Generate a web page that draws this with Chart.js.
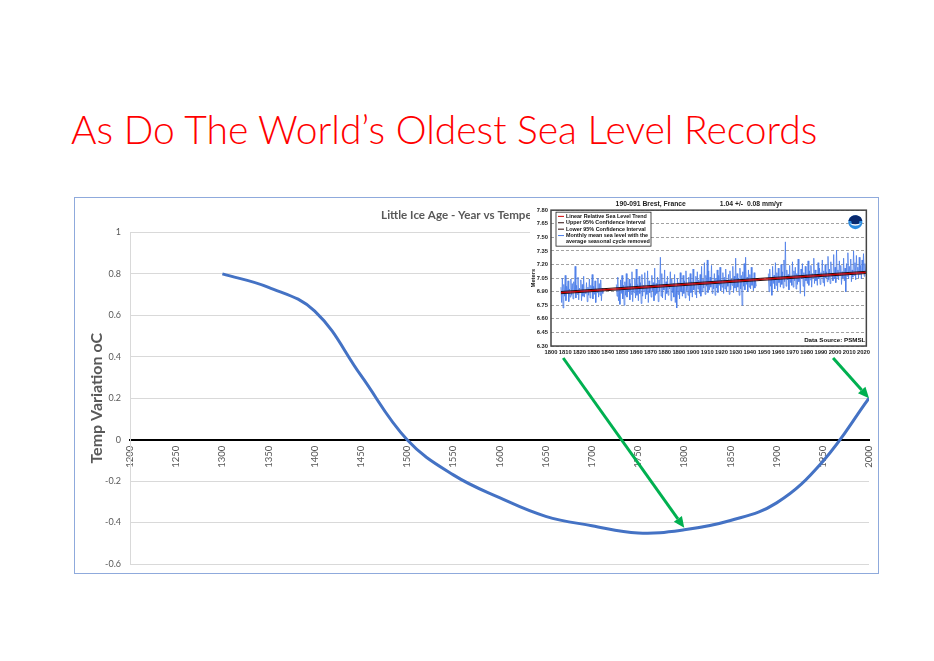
<!DOCTYPE html>
<html>
<head>
<meta charset="utf-8">
<script src="https://cdn.jsdelivr.net/npm/chart.js@4.4.1/dist/chart.umd.min.js"></script>
<style>
  html, body { margin: 0; padding: 0; background: #fff; }
  #slide { position: relative; width: 934px; height: 661px; overflow: hidden; }
  #heading { position: absolute; left: 71px; top: 106px; font-family: Lato, "Open Sans", sans-serif; font-weight: 300; font-size: 39px; line-height: 1.2; color: #ff0000; white-space: nowrap; }
  #mainBox { position: absolute; left: 74px; top: 197px; width: 805px; height: 377px; box-sizing: border-box; border: 1px solid #8faadc; }
  #insetBox { position: absolute; left: 530px; top: 199px; width: 343px; height: 160px; background: #fff; }
  canvas { display: block; }
  #arrows { position: absolute; left: 0; top: 0; pointer-events: none; }
</style>
</head>
<body>
<div id="slide">
  <div id="heading">As Do The World’s Oldest Sea Level Records</div>
  <div id="mainBox"><canvas id="mainChart" width="803" height="375"></canvas></div>
  <div id="insetBox"><canvas id="insetChart" width="343" height="160"></canvas></div>
  <canvas id="arrows" width="934" height="661"></canvas>
</div>
<script>
// main chart: Little Ice Age temperature variation
var years = [1300, 1350, 1400, 1450, 1500, 1550, 1600, 1650, 1700, 1750, 1800, 1850, 1900, 1950, 2000];
var tempVariation = [0.80, 0.735, 0.62, 0.31, 0.0, -0.17, -0.28, -0.37, -0.415, -0.45, -0.435, -0.39, -0.305, -0.105, 0.20];

// inset: Brest monthly mean sea level (metres), half-year steps, three runs with gaps
var seaStart = [1807, 1846, 1953];
var seaLevel1 = [6.95, 6.78, 7.05, 6.72, 6.98, 6.85, 7.08, 6.80, 6.96, 6.88, 7.02, 6.79, 6.93, 6.84, 7.04, 6.86, 6.99, 6.82, 7.01, 6.90,
  7.18, 6.83, 6.97, 6.87, 7.06, 6.81, 6.94, 6.89, 7.03, 6.80, 6.98, 6.85, 7.07, 6.84, 6.92, 6.88, 7.00, 6.79, 6.95, 6.86,
  7.04, 6.83, 6.97, 6.90, 7.09, 6.82, 6.96, 6.87, 7.02, 6.78, 6.93, 6.89, 7.05, 6.84, 6.99, 6.86, 7.03, 6.80, 6.94, 6.88];
var seaLevel2 = [6.98, 6.85, 7.06, 6.80, 6.95, 6.76, 7.03, 6.88, 7.08, 6.82, 6.97, 6.75, 7.01, 6.86, 7.10, 6.84, 6.96, 6.90, 7.04, 6.81,
  6.99, 6.87, 7.12, 6.79, 6.94, 6.89, 7.05, 6.83, 7.15, 6.86, 6.98, 6.80, 7.07, 6.88, 7.00, 6.77, 7.09, 6.85, 6.97, 6.90,
  7.11, 6.82, 6.95, 6.87, 7.13, 6.78, 7.02, 6.89, 6.96, 6.84, 7.08, 6.91, 7.00, 6.80, 7.16, 6.86, 6.99, 6.88, 7.06, 6.79,
  7.03, 6.90, 7.28, 6.85, 7.10, 6.83, 6.98, 6.92, 7.14, 6.81, 7.01, 6.88, 7.07, 6.86, 6.97, 6.93, 7.12, 6.80, 7.04, 6.89,
  6.99, 6.84, 7.09, 6.78, 6.96, 6.72, 7.05, 6.87, 7.00, 6.82, 7.11, 6.90, 6.97, 6.85, 7.08, 6.88, 7.02, 6.83, 7.13, 6.91,
  6.99, 6.86, 7.06, 6.80, 7.10, 6.89, 7.01, 6.84, 7.15, 6.92, 6.98, 6.87, 7.07, 6.83, 7.12, 6.93, 7.03, 6.88, 7.09, 6.85,
  7.18, 6.90, 7.04, 6.94, 7.22, 6.87, 7.08, 6.96, 7.25, 6.89, 7.13, 6.92, 7.06, 6.95, 7.19, 6.88, 7.02, 6.93, 7.10, 6.86,
  7.05, 6.94, 7.14, 6.89, 7.08, 6.97, 7.17, 6.91, 7.03, 6.95, 7.11, 6.88, 7.06, 6.93, 7.15, 6.90, 7.01, 6.96, 7.09, 6.87,
  7.13, 6.92, 7.04, 6.97, 7.18, 6.89, 7.07, 6.94, 7.27, 6.91, 7.10, 6.95, 7.05, 6.86, 7.16, 6.93, 7.08, 6.75, 7.12, 6.96,
  7.21, 6.92, 7.28, 6.98, 7.06, 6.90, 7.14, 6.95, 7.09, 6.93, 7.17, 6.97, 7.04, 6.91, 7.11, 6.94, 7.02, 6.96];
var seaLevel3 = [7.10, 6.90, 7.15, 6.96, 7.05, 6.86, 7.18, 6.99, 7.08, 6.93, 7.22, 6.97, 7.11, 6.91, 7.16, 7.00, 7.06, 6.95, 7.20, 6.98,
  7.12, 6.94, 7.25, 7.01, 7.45, 6.96, 7.14, 7.03, 7.09, 6.92, 7.19, 7.00, 7.07, 6.97, 7.23, 6.95, 7.13, 7.02, 7.17, 6.93,
  7.10, 6.98, 7.26, 7.01, 7.08, 6.88, 7.15, 7.04, 7.21, 6.96, 7.11, 6.85, 7.18, 7.02, 7.09, 6.99, 7.24, 6.97, 7.13, 7.03,
  7.19, 6.95, 7.10, 7.05, 7.27, 6.99, 7.14, 7.02, 7.08, 6.97, 7.22, 7.04, 7.16, 6.98, 7.11, 7.06, 7.25, 7.00, 7.13, 6.96,
  7.20, 7.05, 7.12, 7.01, 7.29, 7.03, 7.15, 6.99, 7.23, 7.07, 7.10, 7.02, 7.31, 7.04, 7.17, 7.00, 7.36, 7.06, 7.14, 7.03,
  7.24, 7.08, 7.19, 6.98, 7.12, 7.05, 7.27, 7.02, 7.16, 6.90, 7.21, 7.07, 7.33, 7.04, 7.18, 7.09, 7.26, 7.01, 7.14, 7.06,
  7.35, 7.08, 7.22, 7.03, 7.30, 7.10, 7.17, 7.05, 7.28, 7.09, 7.19, 7.04, 7.25, 7.11, 7.32, 7.07, 7.21, 7.12, 7.15, 7.08];
var trendYears = [1807, 2022];
var trendLevel = [6.89, 7.113];
var trendUpper = [6.902, 7.125];
var trendLower = [6.878, 7.101];

// arrows: from inset year -> to main chart year
var arrowFrom = [1810, 2000];
var arrowTo = [1800, 2000];

var FONT = 'Lato, "Open Sans", sans-serif';
var SMALL = '"Liberation Sans", Arial, sans-serif';

function toPoints(xs, ys) {
  var out = [];
  for (var i = 0; i < xs.length; i++) out.push({ x: xs[i], y: ys[i] });
  return out;
}

var monthly = [];
[seaLevel1, seaLevel2, seaLevel3].forEach(function(run, r) {
  for (var i = 0; i < run.length; i++) monthly.push({ x: seaStart[r] + i * 0.5, y: run[i] });
  monthly.push({ x: seaStart[r] + run.length * 0.5, y: null });
});

var insetDecor = {
  id: 'insetDecor',
  afterDraw: function(chart) {
    var ctx = chart.ctx, a = chart.chartArea;
    ctx.save();
    ctx.strokeStyle = '#444';
    ctx.lineWidth = 1.5;
    ctx.strokeRect(a.left, a.top, a.right - a.left, a.bottom - a.top);

    // legend box
    var lx = a.left + 5, ly = a.top + 2, rows = 0;
    chart.data.datasets.forEach(function(ds) { rows += ds.label.split('\n').length; });
    var rh = 6.4;
    ctx.fillStyle = '#fff';
    ctx.fillRect(lx, ly, 95, rows * rh + 2);
    ctx.lineWidth = 0.8;
    ctx.strokeStyle = '#222';
    ctx.strokeRect(lx, ly, 95, rows * rh + 2);
    ctx.font = 'bold 5.4px ' + SMALL;
    ctx.textBaseline = 'middle';
    var row = 0;
    chart.data.datasets.forEach(function(ds) {
      var lines = ds.label.split('\n');
      var y0 = ly + 1 + rh * (row + 0.5);
      ctx.strokeStyle = ds.borderColor;
      ctx.lineWidth = 1;
      ctx.beginPath(); ctx.moveTo(lx + 2, y0); ctx.lineTo(lx + 8, y0); ctx.stroke();
      ctx.fillStyle = '#111';
      lines.forEach(function(t) {
        ctx.fillText(t, lx + 10, ly + 1 + rh * (row + 0.5));
        row++;
      });
    });

    // NOAA logo
    var cx = a.right - 11, cy = a.top + 12;
    ctx.beginPath(); ctx.arc(cx, cy, 7, 0, Math.PI * 2); ctx.fillStyle = '#2a8be0'; ctx.fill();
    ctx.beginPath(); ctx.arc(cx, cy, 7, Math.PI * 1.05, Math.PI * 1.95); ctx.fillStyle = '#0a2a6e'; ctx.fill();
    ctx.beginPath(); ctx.arc(cx, cy - 1, 4, 0, Math.PI * 2); ctx.fillStyle = '#0a2a6e'; ctx.fill();
    ctx.beginPath(); ctx.moveTo(cx - 6, cy + 1); ctx.quadraticCurveTo(cx, cy + 6, cx + 6, cy + 1);
    ctx.quadraticCurveTo(cx, cy + 3, cx - 6, cy + 1); ctx.fillStyle = '#fff'; ctx.fill();

    ctx.font = 'bold 6.2px ' + SMALL;
    ctx.fillStyle = '#111';
    ctx.textAlign = 'right';
    ctx.textBaseline = 'alphabetic';
    ctx.fillText('Data Source: PSMSL', a.right - 1, a.bottom - 4);
    ctx.restore();
  }
};

var smallFont = { family: SMALL, size: 5.8, weight: 'bold' };

var inset = new Chart(document.getElementById('insetChart'), {
  type: 'line',
  data: {
    datasets: [
      { label: 'Linear Relative Sea Level Trend', data: toPoints(trendYears, trendLevel), borderColor: '#d00000', borderWidth: 1.3 },
      { label: 'Upper 95% Confidence Interval', data: toPoints(trendYears, trendUpper), borderColor: '#2b0a0a', borderWidth: 1 },
      { label: 'Lower 95% Confidence Interval', data: toPoints(trendYears, trendLower), borderColor: '#2b0a0a', borderWidth: 1 },
      { label: 'Monthly mean sea level with the\naverage seasonal cycle removed', data: monthly, borderColor: '#4a7ce8', borderWidth: 0.8, spanGaps: false }
    ]
  },
  options: {
    responsive: false,
    animation: false,
    elements: { point: { radius: 0 }, line: { tension: 0 } },
    layout: { padding: { left: 0, right: 5, top: 0, bottom: 0 } },
    plugins: {
      legend: { display: false },
      tooltip: { enabled: false },
      title: {
        display: true,
        text: '190-091 Brest, France                  1.04 +/-  0.08 mm/yr',
        color: '#222',
        font: { family: SMALL, size: 6.8, weight: 'bold' },
        padding: { top: 1, bottom: 2 }
      }
    },
    scales: {
      x: {
        type: 'linear', min: 1800, max: 2022,
        grid: { display: false, drawTicks: false },
        border: { display: false },
        ticks: { stepSize: 10, includeBounds: false, autoSkip: false, maxRotation: 0, padding: 3, color: '#222', font: smallFont,
          callback: function(v) { return String(v); } }
      },
      y: {
        min: 6.3, max: 7.8,
        afterFit: function(s) { s.width = 21; },
        grid: { color: '#8a8a8a', lineWidth: 0.8, drawTicks: false },
        border: { display: false, dash: [3, 2] },
        title: { display: true, text: 'Meters', color: '#222', font: smallFont, padding: 0 },
        ticks: { stepSize: 0.15, padding: 3, color: '#222', font: smallFont,
          callback: function(v) { return v.toFixed(2); } }
      }
    }
  },
  plugins: [insetDecor]
});

var main = new Chart(document.getElementById('mainChart'), {
  type: 'line',
  data: {
    datasets: [{
      label: 'Temp Variation',
      data: toPoints(years, tempVariation),
      borderColor: '#4472c4',
      borderWidth: 3,
      pointRadius: 0,
      tension: 0.4
    }]
  },
  options: {
    responsive: false,
    animation: false,
    layout: { padding: { left: 0, right: 9, top: 0, bottom: 9 } },
    plugins: {
      legend: { display: false },
      tooltip: { enabled: false },
      title: {
        display: true,
        text: 'Little Ice Age - Year vs Temperature',
        color: '#595959',
        font: { family: FONT, size: 11.6, weight: 'bold' },
        padding: { top: 10, bottom: 10.5 }
      }
    },
    scales: {
      x: {
        type: 'linear', position: { y: 0 }, min: 1200, max: 2000,
        afterFit: function(s) { s.paddingLeft = 0; s.paddingRight = 0; },
        grid: { display: true, drawOnChartArea: false, drawTicks: false },
        border: { display: true, color: '#000', width: 2 },
        ticks: { stepSize: 50, includeBounds: false, autoSkip: false, minRotation: 90, maxRotation: 90, padding: 6,
          color: '#595959', font: { family: FONT, size: 9.5 },
          callback: function(v) { return String(v); } }
      },
      y: {
        min: -0.6, max: 1,
        afterFit: function(s) { s.width = 55; s.paddingBottom = 0; },
        grid: { color: '#d9d9d9', drawTicks: false },
        border: { display: true, color: '#d9d9d9' },
        title: { display: true, text: 'Temp Variation oC', color: '#595959', font: { family: FONT, size: 16, weight: 'bold' }, padding: { top: 12, bottom: 0 } },
        ticks: { stepSize: 0.2, padding: 9, color: '#595959', font: { family: FONT, size: 9 },
          callback: function(v) { return String(Math.round(v * 10) / 10); } }
      }
    }
  }
});

function drawArrow(ctx, x1, y1, x2, y2) {
  var ang = Math.atan2(y2 - y1, x2 - x1);
  var head = 11, half = 5;
  var bx = x2 - head * Math.cos(ang), by = y2 - head * Math.sin(ang);
  ctx.strokeStyle = '#00b050';
  ctx.fillStyle = '#00b050';
  ctx.lineWidth = 3;
  ctx.beginPath(); ctx.moveTo(x1, y1); ctx.lineTo(bx, by); ctx.stroke();
  ctx.beginPath(); ctx.moveTo(x2, y2);
  ctx.lineTo(bx + half * Math.sin(ang), by - half * Math.cos(ang));
  ctx.lineTo(bx - half * Math.sin(ang), by + half * Math.cos(ang));
  ctx.closePath(); ctx.fill();
}

function drawArrows() {
  var c = document.getElementById('arrows');
  var ctx = c.getContext('2d');
  var mainOff = { x: 75, y: 198 }, insetOff = { x: 530, y: 199 };
  for (var i = 0; i < arrowFrom.length; i++) {
    var k = years.indexOf(arrowTo[i]);
    var x1 = insetOff.x + inset.scales.x.getPixelForValue(arrowFrom[i]) - 2;
    var y1 = insetOff.y + inset.height - 1;
    var x2 = mainOff.x + main.scales.x.getPixelForValue(arrowTo[i]);
    var y2 = mainOff.y + main.scales.y.getPixelForValue(tempVariation[k]) - (i === 0 ? 2 : 0);
    drawArrow(ctx, x1, y1, x2, y2);
  }
}
drawArrows();
</script>
</body>
</html>
